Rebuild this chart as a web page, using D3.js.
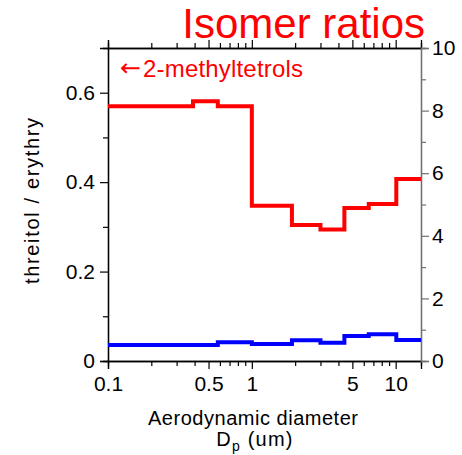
<!DOCTYPE html>
<html><head><meta charset="utf-8">
<script src="https://cdn.jsdelivr.net/npm/d3@7"></script>
<style>
body{margin:0;background:#fff;}
svg{display:block;font-family:"Liberation Sans",Arial,sans-serif;}
</style></head>
<body><svg id="c" width="462" height="455"></svg>
<script>
// Bin edges (aerodynamic diameter, um)
const binEdges = [0.1, 0.39, 0.58, 1.0, 1.9, 3.0, 4.4, 6.5, 10.1, 15];
// Isomer ratio threitol/erythry per bin
const redValues  = [0.570, 0.581, 0.570, 0.347, 0.304, 0.294, 0.342, 0.351, 0.407];
const blueValues = [0.036, 0.036, 0.042, 0.038, 0.0465, 0.041, 0.056, 0.060, 0.047];
const xTickLabels = [0.1, 0.5, 1, 5, 10];
const yLeftTicks = [0, 0.2, 0.4, 0.6];
const yLeftMinor = [0.1, 0.3, 0.5];
const yRightTicks = [0, 2, 4, 6, 8, 10];
const yRightMinor = [1, 3, 5, 7, 9];

const svg = d3.select("#c");
const L = 108, R = 421, T = 48, B = 361;
const x = d3.scaleLog().domain([0.1, 15]).range([L, R]);
const y = d3.scaleLinear().domain([0, 0.7]).range([B, T]);
const y2 = d3.scaleLinear().domain([0, 10]).range([B, T]);

const minorX = [];
[0.1, 1, 10].forEach(d => { for (let k = 2; k <= 9; k++) { const v = +(d * k).toFixed(3); if (v <= 15 && !xTickLabels.includes(v)) minorX.push(v); } });
const majorX = xTickLabels;

const fmt = d => d === 0 ? "0" : String(d);

// bottom axis
const gB = svg.append("g").attr("transform", `translate(0,${B})`);
gB.call(d3.axisBottom(x).tickValues(minorX).tickSize(5).tickFormat(""));
gB.append("g").call(d3.axisBottom(x).tickValues(majorX).tickSize(8).tickPadding(7).tickFormat(fmt));
// top axis
const gT = svg.append("g").attr("transform", `translate(0,${T})`);
gT.call(d3.axisTop(x).tickValues(minorX).tickSize(5).tickFormat(""));
gT.append("g").call(d3.axisTop(x).tickValues(majorX).tickSize(8).tickFormat(""));
// left axis
const gL = svg.append("g").attr("transform", `translate(${L},0)`);
gL.call(d3.axisLeft(y).tickValues(yLeftMinor).tickSize(5).tickFormat(""));
gL.append("g").call(d3.axisLeft(y).tickValues(yLeftTicks).tickSize(8).tickPadding(5).tickFormat(fmt));
// right axis
const gR = svg.append("g").attr("transform", `translate(${R},0)`);
gR.call(d3.axisRight(y2).tickValues(yRightMinor).tickSize(5).tickFormat(""));
gR.append("g").call(d3.axisRight(y2).tickValues(yRightTicks).tickSize(8).tickPadding(3).tickFormat(fmt));

svg.selectAll(".domain").attr("stroke", "#000").attr("stroke-width", 1.3);
svg.selectAll(".tick line").attr("stroke", "#000").attr("stroke-width", 1.2);
gR.selectAll(".domain, .tick line").attr("stroke", "#707070");
svg.selectAll(".tick text").attr("font-size", 21).attr("fill", "#000").attr("font-family", "Liberation Sans, Arial, sans-serif");

// step lines
function stepPts(vals) {
  const pts = vals.map((v, i) => [binEdges[i], v]);
  pts.push([binEdges[binEdges.length - 1], vals[vals.length - 1]]);
  return pts;
}
const line = d3.line().x(d => x(d[0])).y(d => y(d[1])).curve(d3.curveStepAfter);
svg.append("path").attr("d", line(stepPts(blueValues))).attr("fill", "none").attr("stroke", "#0000ff").attr("stroke-width", 4).attr("stroke-linejoin", "miter");
svg.append("path").attr("d", line(stepPts(redValues))).attr("fill", "none").attr("stroke", "#ff0000").attr("stroke-width", 4).attr("stroke-linejoin", "miter");

// texts
svg.append("text").attr("x", 425).attr("y", 38).attr("text-anchor", "end").attr("font-size", 42).attr("fill", "#ff0000").text("Isomer ratios");
svg.append("text").attr("x", 120).attr("y", 76).attr("font-size", 24).attr("fill", "#ff0000")
  .attr("font-family", "DejaVu Sans, sans-serif").attr("textLength", 21).attr("lengthAdjust", "spacingAndGlyphs").text("\u2190");
svg.append("text").attr("x", 143).attr("y", 77).attr("font-size", 24).attr("fill", "#ff0000")
  .attr("textLength", 160).attr("lengthAdjust", "spacing").text("2-methyltetrols");
svg.append("text").attr("transform", "translate(39,201) rotate(-90)").attr("text-anchor", "middle").attr("font-size", 20).attr("fill", "#000")
  .attr("textLength", 166).attr("lengthAdjust", "spacing").text("threitol / erythry");
svg.append("text").attr("x", 253).attr("y", 425).attr("text-anchor", "middle").attr("font-size", 20).attr("fill", "#000")
  .attr("textLength", 210).attr("lengthAdjust", "spacing").text("Aerodynamic diameter");
const t2 = svg.append("text").attr("x", 255).attr("y", 446).attr("text-anchor", "middle").attr("font-size", 20).attr("fill", "#000").attr("letter-spacing", 1.2);
t2.append("tspan").text("D");
t2.append("tspan").attr("font-size", 14).attr("dy", 5).text("p");
t2.append("tspan").attr("dy", -5).text(" (um)");
</script></body></html>
